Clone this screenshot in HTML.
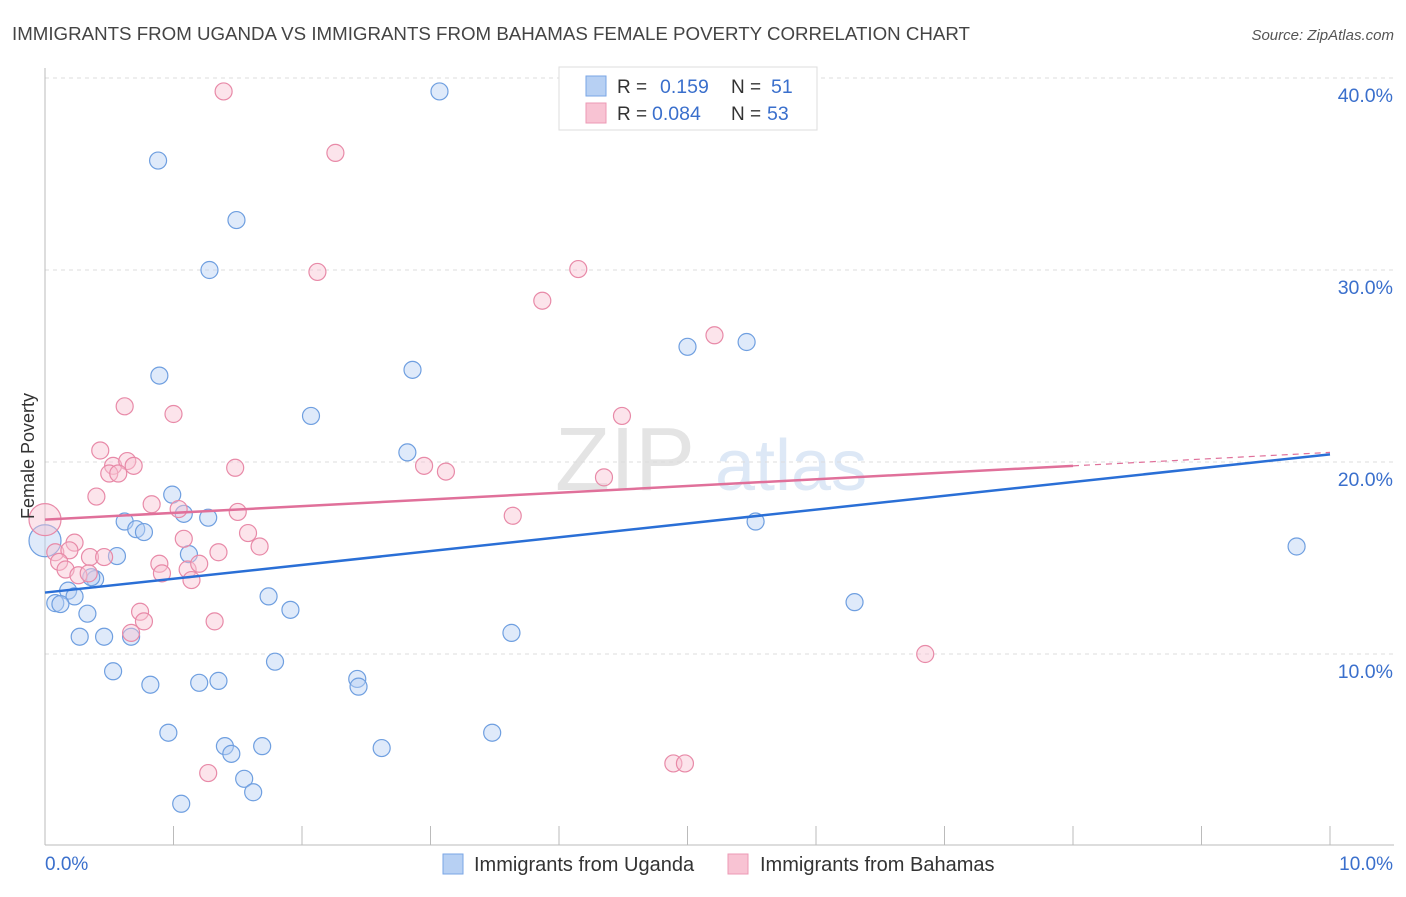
<!DOCTYPE html>
<html><head><meta charset="utf-8">
<style>
body{margin:0;background:#fff;font-family:"Liberation Sans",sans-serif;}
svg text{font-family:"Liberation Sans",sans-serif;}
</style></head>
<body>
<svg id="chart" width="1406" height="892" viewBox="0 0 1406 892" xmlns="http://www.w3.org/2000/svg">
<text x="12" y="40" font-size="18.5" fill="#444" textLength="958" lengthAdjust="spacingAndGlyphs">IMMIGRANTS FROM UGANDA VS IMMIGRANTS FROM BAHAMAS FEMALE POVERTY CORRELATION CHART</text>
<text x="1394" y="40" font-size="15" fill="#555" text-anchor="end" font-style="italic">Source: ZipAtlas.com</text>
<text x="555" y="490" font-size="90" fill="#e4e4e4" font-family="Liberation Serif">ZIP</text>
<text x="715" y="490" font-size="72" fill="#dde8f6">atlas</text>
<g id="grid"></g>
<g id="axes"></g>
<g id="pts"></g>
<g id="trends"></g>
<text transform="translate(34,456) rotate(-90)" font-size="18" fill="#333" text-anchor="middle">Female Poverty</text>
<g>
<rect x="559" y="67" width="258" height="63" fill="#fff" stroke="#ddd"/>
<rect x="586" y="76" width="20" height="20" fill="#b7d0f3" stroke="#7aa6e6"/>
<rect x="586" y="103" width="20" height="20" fill="#f8c3d3" stroke="#ec9ab4"/>
<text x="617" y="93" font-size="19" fill="#333">R = </text><text x="660" y="93" font-size="19.5" fill="#3a6fcc">0.159</text>
<text x="731" y="93" font-size="19" fill="#333">N = </text><text x="771" y="93" font-size="19.5" fill="#3a6fcc">51</text>
<text x="617" y="120" font-size="19" fill="#333">R = </text><text x="652" y="120" font-size="19.5" fill="#3a6fcc">0.084</text>
<text x="731" y="120" font-size="19" fill="#333">N = </text><text x="767" y="120" font-size="19.5" fill="#3a6fcc">53</text>
</g>
<g>
<rect x="443" y="854" width="20" height="20" fill="#b7d0f3" stroke="#7aa6e6"/>
<text x="474" y="871" font-size="20" fill="#333">Immigrants from Uganda</text>
<rect x="728" y="854" width="20" height="20" fill="#f8c3d3" stroke="#ec9ab4"/>
<text x="760" y="871" font-size="20" fill="#333">Immigrants from Bahamas</text>
</g>
</svg>
<script>
const yTicks=[10,20,30,40];
const yTickLabels=["10.0%","20.0%","30.0%","40.0%"];
const xTickLabels=["0.0%","10.0%"];
const ugandaX=[0.88,3.07,1.49,1.28,0.89,2.86,2.07,5.00,5.46,2.82,0.99,1.08,1.27,0.62,0.71,0.77,5.53,0.56,1.12,0.39,0.36,0.18,0.23,0.08,0.12,0.33,1.74,1.91,6.30,9.74,0.27,0.46,0.67,3.63,0.53,0.82,1.20,1.35,1.79,2.43,2.44,0.96,1.40,1.45,1.69,2.62,3.48,1.55,1.62,1.06,0.0];
const ugandaY=[35.7,39.3,32.6,30.0,24.5,24.8,22.4,26.0,26.25,20.5,18.3,17.3,17.1,16.9,16.5,16.35,16.9,15.1,15.2,13.9,14.0,13.3,13.0,12.65,12.6,12.1,13.0,12.3,12.7,15.6,10.9,10.9,10.9,11.1,9.1,8.4,8.5,8.6,9.6,8.7,8.3,5.9,5.2,4.8,5.2,5.1,5.9,3.5,2.8,2.2,15.9];
const bahamasX=[1.39,2.26,2.12,4.15,3.87,5.21,0.62,1.00,4.49,0.43,0.53,0.64,0.69,0.50,0.57,1.48,2.95,3.12,4.35,0.40,0.83,1.04,1.50,3.64,1.58,1.08,1.67,1.35,0.0,0.08,0.23,0.19,0.35,0.46,0.11,0.16,0.26,0.34,0.89,1.11,1.20,0.91,1.14,0.74,0.77,1.32,0.67,6.85,1.27,4.89,4.98];
const bahamasY=[39.3,36.1,29.9,30.05,28.4,26.6,22.9,22.5,22.4,20.6,19.8,20.05,19.8,19.4,19.4,19.7,19.8,19.5,19.2,18.2,17.8,17.55,17.4,17.2,16.3,16.0,15.6,15.3,17.0,15.3,15.8,15.4,15.05,15.05,14.8,14.4,14.1,14.2,14.7,14.4,14.7,14.2,13.85,12.2,11.7,11.7,11.1,10.0,3.8,4.3,4.3];
const ugandaBig=[50];
const bahamasBig=[28];
const ugandaTrend=[13.2,20.4];
const bahamasTrend=[17.0,20.5];
const NS="http://www.w3.org/2000/svg";
const X=v=>45+v*128.5, Y=v=>846-v*19.2;
function mk(tag,attrs,parent){const e=document.createElementNS(NS,tag);for(const k in attrs)e.setAttribute(k,attrs[k]);document.getElementById(parent).appendChild(e);return e;}
yTicks.forEach((t,i)=>{
 const l=mk('line',{x1:45,x2:1394,y1:Y(t),y2:Y(t),stroke:'#ddd','stroke-dasharray':'4,4'},'grid');
 
 
 const tx=mk('text',{x:1393,y:Y(t)+24,'font-size':19.5,fill:'#3a6fcc','text-anchor':'end'},'grid');
 tx.textContent=yTickLabels[i];
 
 
});
const ax=mk('line',{x1:45,x2:1394,y1:845,y2:845,stroke:'#bbb'},'axes');


const ay=mk('line',{x1:45,x2:45,y1:68,y2:845,stroke:'#bbb'},'axes');


for(let i=0;i<=10;i++){
 const t=mk('line',{x1:X(i),x2:X(i),y1:826,y2:845,stroke:'#bbb'},'axes');
 
 
}
[[0,'start'],[10,'end']].forEach((p,i)=>{
 const tx=mk('text',{x:i?1393:45,y:870,'font-size':19,fill:'#3a6fcc','text-anchor':p[1]},'axes');
 tx.textContent=xTickLabels[i];
 
 
});
function plot(xs,ys,big,fill,stroke,name){
 xs.forEach((x,i)=>{
  const c=mk('circle',{cx:X(x),cy:Y(ys[i]),r:big.includes(i)?16:8.5,fill:fill,'fill-opacity':0.45,stroke:stroke,'stroke-width':1.2},'pts');
  
  
 });
}
plot(ugandaX,ugandaY,ugandaBig,'#b7d0f3','#6f9fe0','uganda-point');
plot(bahamasX,bahamasY,bahamasBig,'#f8c3d3','#e88aa8','bahamas-point');
const bl=mk('line',{x1:X(0),y1:Y(ugandaTrend[0]),x2:X(10),y2:Y(ugandaTrend[1]),stroke:'#2a6fd6','stroke-width':2.5},'trends');


const yAt8=bahamasTrend[0]+(bahamasTrend[1]-bahamasTrend[0])*0.8;
const pl=mk('line',{x1:X(0),y1:Y(bahamasTrend[0]),x2:X(8),y2:Y(yAt8),stroke:'#e0709a','stroke-width':2.5},'trends');


const pd=mk('line',{x1:X(8),y1:Y(yAt8),x2:X(10),y2:Y(bahamasTrend[1]),stroke:'#e0709a','stroke-width':1.2,'stroke-dasharray':'6,5'},'trends');


</script>
</body></html>
